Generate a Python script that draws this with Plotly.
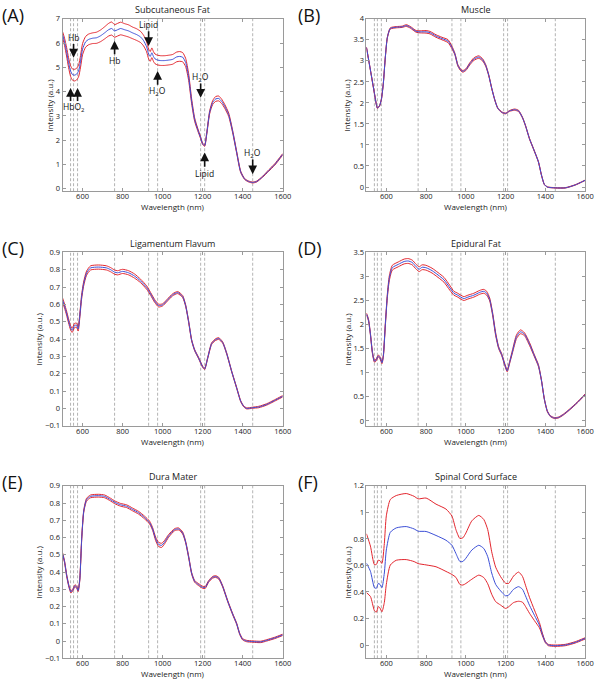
import plotly.graph_objects as go

# ---------------- data ----------------
band_lines = [540, 555, 575, 760, 930, 975, 1190, 1210, 1450]

wl_a = [500,510,520,530,540,550,560,570,580,590,600,615,630,650,670,690,710,730,745,760,
        775,790,810,830,850,870,890,905,920,930,938,946,954,962,975,990,1010,1030,1050,1070,
        1085,1100,1115,1130,1145,1160,1175,1190,1200,1210,1220,1235,1250,1265,1280,1295,1310,1330,1350,1370,
        1390,1410,1430,1450,1470,1500,1530,1560,1600]
mean_a = [6.35,6.05,5.65,5.2,4.85,4.7,4.68,4.72,4.85,5.25,5.75,6.05,6.15,6.2,6.22,6.3,6.42,6.55,6.6,6.5,
          6.55,6.6,6.55,6.5,6.42,6.35,6.25,6.1,5.85,5.55,5.45,5.6,5.45,5.35,5.3,5.28,5.28,5.3,5.33,5.43,
          5.45,5.42,5.2,4.6,3.6,2.85,2.45,2.1,1.85,1.78,2.25,3.15,3.55,3.7,3.72,3.6,3.4,3.05,2.35,1.5,
          0.7,0.4,0.3,0.26,0.3,0.5,0.75,1.0,1.42]
sd_a = [0.12,0.15,0.18,0.2,0.22,0.23,0.24,0.24,0.24,0.24,
        0.23,0.22,0.22,0.22,0.23,0.24,0.25,0.26,0.27,0.26,
        0.26,0.26,0.25,0.25,0.24,0.24,0.23,0.22,0.21,0.2,
        0.2,0.2,0.2,0.2,0.2,0.2,0.2,0.2,0.2,0.2,
        0.2,0.19,0.17,0.14,0.1,0.07,0.05,0.04,0.03,0.03,
        0.04,0.06,0.08,0.1,0.1,0.09,0.08,0.07,0.05,0.04,
        0.03,0.02,0.02,0.02,0.02,0.02,0.03,0.03,0.03]

wl_b = [500,520,540,550,555,565,575,585,595,605,620,650,680,700,720,750,770,800,820,850,
        880,910,930,945,960,975,985,1000,1020,1040,1065,1085,1100,1115,1130,1145,1160,1180,1200,1220,
        1245,1265,1285,1300,1320,1340,1365,1380,1395,1410,1450,1500,1550,1600]
mean_b = [3.32,2.78,2.23,1.96,1.88,1.92,2.08,2.47,3.09,3.55,3.77,3.8,3.81,3.84,3.8,3.7,3.69,3.69,3.67,3.59,
          3.53,3.47,3.32,3.16,2.89,2.78,2.75,2.79,2.93,3.04,3.09,3.02,2.89,2.66,2.35,2.08,1.88,1.78,1.75,1.81,
          1.84,1.81,1.65,1.46,1.15,0.91,0.6,0.29,0.06,0.0,-0.02,-0.02,0.05,0.16]
sd_b = [0.01,0.01,0.01,0.01,0.01,0.01,0.01,0.01,0.01,0.01,
        0.015,0.015,0.015,0.02,0.02,0.02,0.025,0.03,0.03,0.03,
        0.03,0.035,0.03,0.02,0.02,0.02,0.02,0.02,0.025,0.03,
        0.03,0.025,0.02,0.015,0.01,0.01,0.01,0.01,0.01,0.01,
        0.015,0.015,0.01,0.01,0.01,0.01,0.01,0.01,0.005,0.005,
        0.005,0.005,0.005,0.005]

wl_c = [500,510,520,530,540,548,560,570,578,585,595,605,620,640,680,720,740,760,775,800,
        830,860,890,920,940,960,980,1000,1020,1050,1075,1100,1115,1130,1145,1160,1180,1200,1210,1225,
        1245,1265,1280,1300,1320,1345,1370,1390,1405,1420,1450,1480,1520,1560,1600]
mean_c = [0.625,0.59,0.55,0.505,0.465,0.45,0.478,0.48,0.458,0.52,0.64,0.716,0.78,0.81,0.815,0.81,0.8,0.786,0.782,0.79,
          0.782,0.763,0.735,0.697,0.66,0.62,0.593,0.597,0.62,0.655,0.668,0.645,0.593,0.5,0.393,0.336,0.29,0.24,0.228,0.29,
          0.374,0.397,0.403,0.38,0.317,0.213,0.118,0.042,0.012,0.0,0.004,0.008,0.023,0.046,0.07]
sd_c = [0.012,0.012,0.012,0.012,0.012,0.012,0.012,0.012,0.012,0.012,
        0.012,0.012,0.012,0.012,0.012,0.012,0.012,0.012,0.012,0.012,
        0.012,0.012,0.01,0.01,0.008,0.008,0.008,0.006,0.006,0.006,
        0.006,0.006,0.005,0.005,0.004,0.004,0.004,0.004,0.004,0.004,
        0.005,0.005,0.005,0.004,0.004,0.003,0.003,0.003,0.003,0.003,
        0.003,0.004,0.004,0.004,0.004]

wl_d = [500,510,520,530,540,548,560,568,578,585,595,605,615,630,660,690,710,730,750,765,
        780,800,830,860,890,920,940,955,975,990,1010,1040,1070,1090,1105,1120,1135,1150,1165,1180,
        1195,1208,1220,1235,1255,1275,1295,1320,1345,1365,1380,1395,1410,1425,1445,1465,1490,1520,1560,1600]
mean_d = [2.22,2.1,1.8,1.42,1.24,1.26,1.35,1.31,1.21,1.35,2.0,2.59,2.96,3.18,3.25,3.31,3.32,3.29,3.2,3.15,
          3.19,3.18,3.12,3.03,2.93,2.76,2.65,2.62,2.57,2.54,2.57,2.61,2.67,2.69,2.65,2.52,2.21,1.8,1.52,1.38,
          1.18,1.04,1.21,1.45,1.75,1.85,1.8,1.6,1.35,1.15,0.85,0.45,0.2,0.1,0.06,0.07,0.13,0.23,0.38,0.55]
sd_d = [0.02,0.02,0.02,0.02,0.02,0.02,0.02,0.02,0.02,0.02,
        0.03,0.04,0.05,0.05,0.05,0.05,0.05,0.05,0.05,0.05,
        0.05,0.05,0.05,0.05,0.05,0.05,0.04,0.04,0.04,0.04,
        0.04,0.04,0.04,0.04,0.04,0.03,0.03,0.03,0.02,0.02,
        0.02,0.02,0.02,0.03,0.04,0.04,0.03,0.03,0.02,0.02,
        0.01,0.01,0.01,0.01,0.01,0.01,0.01,0.01,0.01,0.01]

wl_e = [500,510,520,532,542,552,562,570,578,586,596,606,620,640,680,710,740,760,790,820,
        850,880,910,935,950,965,980,995,1010,1030,1060,1080,1100,1115,1130,1145,1160,1180,1200,1212,
        1230,1250,1265,1280,1300,1325,1350,1370,1385,1400,1420,1450,1490,1520,1560,1600]
mean_e = [0.507,0.46,0.384,0.317,0.285,0.298,0.32,0.314,0.293,0.355,0.6,0.754,0.82,0.839,0.843,0.839,0.82,0.805,0.79,0.782,
          0.763,0.744,0.716,0.687,0.65,0.593,0.56,0.555,0.574,0.61,0.646,0.65,0.627,0.574,0.488,0.393,0.346,0.327,0.312,0.31,
          0.346,0.37,0.374,0.365,0.317,0.232,0.156,0.1,0.042,0.01,0.0,-0.003,-0.005,0.004,0.018,0.036]
sd_e = [0.006,0.006,0.006,0.006,0.006,0.006,0.006,0.006,0.006,0.006,
        0.006,0.006,0.008,0.008,0.008,0.008,0.008,0.008,0.008,0.008,
        0.008,0.008,0.008,0.008,0.008,0.01,0.012,0.012,0.01,0.008,
        0.006,0.006,0.006,0.005,0.005,0.005,0.005,0.006,0.006,0.006,
        0.005,0.005,0.005,0.005,0.004,0.004,0.004,0.004,0.004,0.004,
        0.004,0.004,0.004,0.004,0.004,0.004]

wl_f = [500,520,540,550,560,568,578,590,600,620,650,700,740,760,800,850,900,930,950,970,
        985,1000,1030,1065,1090,1110,1130,1150,1175,1200,1215,1240,1265,1285,1300,1320,1345,1370,1385,1400,
        1415,1450,1500,1550,1600]
mean_f = [0.617,0.556,0.433,0.428,0.465,0.457,0.433,0.543,0.716,0.85,0.883,0.893,0.875,0.858,0.856,0.826,0.79,0.752,0.69,0.63,
          0.63,0.654,0.716,0.752,0.728,0.666,0.543,0.457,0.408,0.371,0.376,0.42,0.44,0.42,0.371,0.3,0.224,0.15,0.08,0.022,
          0.0,-0.005,0.0,0.02,0.05]
sd_f = [0.222,0.19,0.173,0.18,0.175,0.178,0.182,0.222,0.258,0.247,0.244,0.249,0.246,0.244,0.252,0.236,0.235,0.22,0.18,0.173,
        0.178,0.19,0.22,0.225,0.219,0.204,0.16,0.13,0.107,0.095,0.088,0.1,0.11,0.097,0.08,0.06,0.04,0.02,0.01,0.005,
        0.005,0.005,0.005,0.005,0.005]

titles = ["Subcutaneous Fat", "Muscle", "Ligamentum Flavum", "Epidural Fat", "Dura Mater", "Spinal Cord Surface"]
letters = ["(A)", "(B)", "(C)", "(D)", "(E)", "(F)"]
y_ranges = [[-0.1, 7], [-0.1, 4], [-0.1, 0.9], [-0.1, 3.5], [-0.1, 0.9], [-0.1, 1.2]]
y_dticks = [1, 0.5, 0.1, 0.5, 0.1, 0.2]

# panel A annotation labels: (text, x, y)
label_text = ["Hb", "HbO<sub>2</sub>", "Hb", "Lipid", "H<sub>2</sub>O", "H<sub>2</sub>O", "Lipid", "H<sub>2</sub>O"]
label_x = [555, 557, 760, 930, 975, 1190, 1210, 1450]
label_y = [6.22, 3.33, 5.28, 6.78, 4.0, 4.6, 0.65, 1.47]
# arrows: x, tail y, head y
arrow_x = [555, 540, 575, 760, 930, 975, 1190, 1210, 1450]
arrow_tail = [6.02, 3.55, 3.55, 5.48, 6.55, 4.22, 4.4, 0.85, 1.27]
arrow_head = [5.4, 4.15, 4.15, 6.1, 5.88, 4.85, 3.75, 1.5, 0.6]

datasets = [(wl_a, mean_a, sd_a), (wl_b, mean_b, sd_b), (wl_c, mean_c, sd_c),
            (wl_d, mean_d, sd_d), (wl_e, mean_e, sd_e), (wl_f, mean_f, sd_f)]

# ---------------- layout geometry (pixels) ----------------
W, H = 603, 683
col_px = [(63.5, 287), (372, 594)]
row_px = [(14, 189), (251, 427), (488, 663)]
ytitle_offset = [14, 21, 24.5, 20, 24.5, 20]

RED = "#e2262e"
BLUE = "#3c4fd6"
GRID = "#9a9a9a"
FONT = "Open Sans"

fig = go.Figure()
layout = dict(width=W, height=H, margin=dict(l=0, r=0, t=0, b=0),
              paper_bgcolor="white", plot_bgcolor="white", showlegend=False,
              font=dict(family=FONT, size=8, color="#222"))
annotations = []
shapes = []

for i in range(6):
    r, c = divmod(i, 2)
    n = i + 1
    xa = "x" if n == 1 else f"x{n}"
    ya = "y" if n == 1 else f"y{n}"
    x0p, x1p = col_px[c]
    y0p, y1p = row_px[r]
    xd = [x0p / W, x1p / W]
    yd = [1 - y1p / H, 1 - y0p / H]
    axis_common = dict(showline=True, linecolor=GRID, linewidth=1, mirror="ticks",
                       ticks="inside", ticklen=3, tickcolor=GRID, showgrid=False, zeroline=False,
                       tickfont=dict(family=FONT, size=7.5, color="#222"))
    layout["xaxis" if n == 1 else f"xaxis{n}"] = dict(domain=xd, anchor=ya, range=[500, 1600],
                                                      tick0=0, dtick=200, ticklabelstandoff=-2,
                                                      **axis_common)
    layout["yaxis" if n == 1 else f"yaxis{n}"] = dict(domain=yd, anchor=xa, range=y_ranges[i],
                                                      tick0=0, dtick=y_dticks[i], **axis_common)
    wl, m, s = datasets[i]
    upper = [a + b for a, b in zip(m, s)]
    lower = [a - b for a, b in zip(m, s)]
    for yy in (upper, lower):
        fig.add_trace(go.Scatter(x=wl, y=yy, mode="lines", xaxis=xa, yaxis=ya, hoverinfo="skip",
                                 line=dict(color=RED, width=1, shape="spline", smoothing=0.6)))
    fig.add_trace(go.Scatter(x=wl, y=m, mode="lines", xaxis=xa, yaxis=ya, hoverinfo="skip",
                             line=dict(color=BLUE, width=1, shape="spline", smoothing=0.6)))
    for b in band_lines:
        shapes.append(dict(type="line", xref=xa, yref=f"{ya} domain", x0=b, x1=b, y0=0, y1=1,
                           line=dict(color="#a0a0a0", width=0.8, dash="3px,2px"), layer="below"))
    xc = (x0p + x1p) / 2 / W
    # title
    annotations.append(dict(text=titles[i], xref="paper", yref="paper", x=xc, y=1 - (y0p - 9) / H,
                            showarrow=False, font=dict(family=FONT, size=9, color="#222"),
                            xanchor="center", yanchor="middle"))
    # x title
    annotations.append(dict(text="Wavelength (nm)", xref="paper", yref="paper", x=xc, y=1 - (y1p + 15.5) / H,
                            showarrow=False, font=dict(family=FONT, size=8, color="#222"),
                            xanchor="center", yanchor="middle"))
    # y title
    annotations.append(dict(text="Intensity (a.u.)", xref="paper", yref="paper", x=(x0p - ytitle_offset[i]) / W,
                            y=1 - (y0p + y1p) / 2 / H, showarrow=False, textangle=-90,
                            font=dict(family=FONT, size=8, color="#222"),
                            xanchor="center", yanchor="middle"))
    # panel letter
    annotations.append(dict(text=letters[i], xref="paper", yref="paper", x=(c * 300) / W,
                            y=1 - (y0p - 4) / H, showarrow=False,
                            font=dict(family=FONT, size=18, color="#111"),
                            xanchor="left", yanchor="middle"))

# panel A labels and arrows
for t, x, y in zip(label_text, label_x, label_y):
    annotations.append(dict(text=t, x=x, y=y, xref="x", yref="y", showarrow=False,
                            font=dict(family=FONT, size=8.5, color="#111")))
for x, yt, yh in zip(arrow_x, arrow_tail, arrow_head):
    annotations.append(dict(text="", x=x, y=yh, ax=x, ay=yt, xref="x", yref="y", axref="x", ayref="y",
                            showarrow=True, arrowhead=2, arrowsize=1.1, arrowwidth=1.6,
                            arrowcolor="#111", standoff=0, startstandoff=0))

layout["annotations"] = annotations
layout["shapes"] = shapes
fig.update_layout(**layout)
fig.write_html("out.html", config={"displayModeBar": False},
               post_script="document.body.style.margin='0';document.body.style.padding='0';"
                           "document.documentElement.style.overflow='hidden';")
